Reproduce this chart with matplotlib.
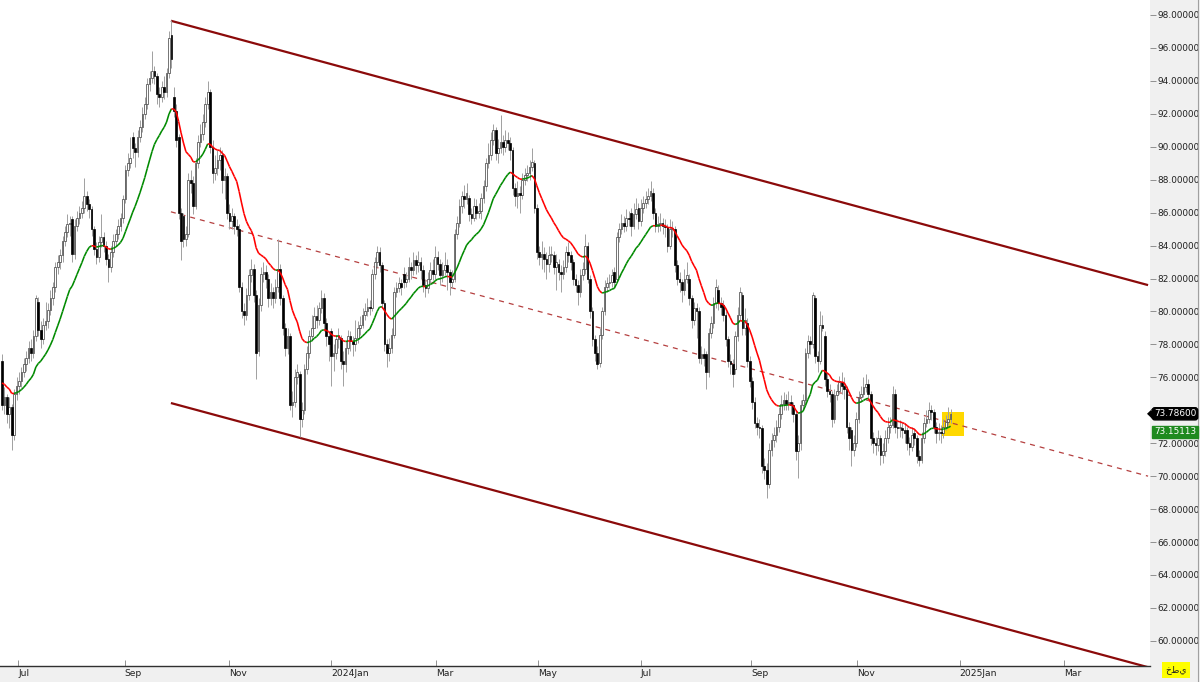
import numpy as np
import matplotlib
matplotlib.use("Agg")
import matplotlib.pyplot as plt
from matplotlib.collections import LineCollection
from matplotlib.patches import Rectangle, Polygon
import matplotlib.transforms as mtransforms

# ---------------- data ----------------
opens = [77.0,74.3,74.8,73.8,74.2,72.5,75.0,75.5,75.8,76.3,
76.8,77.2,77.8,77.5,78.5,80.6,78.9,78.3,79.2,79.4,
80.1,80.8,81.5,82.7,83.0,83.4,84.3,84.8,85.3,85.6,
83.5,85.2,85.7,86.0,86.3,87.0,86.5,86.2,85.0,83.8,
83.3,84.2,84.5,84.0,83.2,82.7,83.6,84.3,84.7,85.2,
85.7,86.8,88.6,89.0,90.6,89.9,89.7,90.6,91.2,92.0,
92.6,93.8,94.2,94.6,94.3,93.2,93.0,93.6,93.3,94.5,
96.8,93.0,92.2,90.6,86.0,85.8,84.4,84.7,88.0,87.8,
86.4,89.0,90.3,90.8,91.5,92.6,93.3,90.0,88.4,88.7,
89.2,89.5,88.0,88.2,86.0,85.5,85.8,85.2,85.0,81.5,
80.0,79.8,81.0,82.2,82.6,81.0,77.6,80.4,82.3,82.4,
82.0,80.8,81.2,80.8,81.5,82.6,80.8,79.0,77.8,78.5,
74.3,74.5,76.0,76.2,73.5,74.0,76.5,77.5,78.5,79.0,
79.7,79.5,80.2,80.8,79.3,78.5,78.8,77.3,77.5,78.3,
78.4,77.0,76.8,77.8,78.5,78.2,78.0,78.4,79.0,79.2,
79.8,80.0,80.3,80.2,82.3,83.0,83.6,82.8,80.5,78.0,
77.5,77.8,78.6,81.2,81.4,81.7,82.3,81.8,82.0,82.7,
82.5,83.1,82.8,83.0,82.5,81.6,81.4,82.0,82.5,82.3,
83.3,82.9,82.2,82.5,82.8,82.4,81.8,82.0,84.7,85.4,
86.4,87.0,86.8,86.9,85.9,85.7,86.4,86.0,86.1,86.9,
87.6,89.0,89.5,90.4,91.0,89.6,89.9,90.3,90.0,90.4,
90.2,89.8,87.5,87.0,87.2,87.1,88.0,88.3,88.4,88.8,
89.0,86.3,83.6,83.3,83.5,83.2,82.9,83.4,83.4,82.7,
82.9,82.4,82.3,82.7,83.6,83.4,83.0,82.0,81.6,81.2,
82.2,82.6,84.0,82.0,80.0,78.3,77.5,76.9,78.6,80.0,
81.5,81.7,81.8,82.4,82.0,84.5,85.0,85.4,85.2,85.7,
86.0,85.2,85.9,86.3,85.5,86.3,86.6,86.8,87.0,87.2,
86.0,85.2,85.3,85.4,85.2,85.1,84.0,85.0,85.0,82.8,
82.0,81.8,81.3,82.0,82.0,80.8,79.5,80.2,80.0,77.2,
77.4,77.4,76.3,78.7,79.3,80.5,81.3,80.5,80.4,79.8,
78.3,77.0,76.8,76.5,78.5,79.8,81.0,79.0,79.3,77.0,
75.8,74.5,73.2,73.0,72.9,70.6,70.4,69.5,71.6,72.2,
72.5,73.0,73.8,74.4,74.6,74.4,74.5,74.3,73.8,71.5,
72.0,74.3,74.6,77.5,78.2,78.0,80.8,77.3,77.0,79.2,
78.5,75.9,75.2,75.0,73.5,74.9,75.2,75.7,75.5,75.3,
73.0,72.8,71.6,72.0,73.5,74.8,75.0,75.4,75.6,75.0,
72.3,72.0,71.9,72.3,71.3,71.5,72.3,73.0,73.1,75.0,
73.0,72.9,72.9,72.8,72.8,72.0,71.8,72.6,72.3,71.2,
71.0,72.3,73.2,73.5,74.0,73.9,73.0,72.6,72.7,72.6,
73.0,73.3,73.5]

highs = [77.4,75.4,75.0,74.8,74.4,75.3,76.0,76.3,76.6,77.2,
77.6,78.2,78.3,78.9,81.0,80.9,79.4,79.6,80.6,80.5,
81.3,81.8,83.0,83.4,83.8,84.6,85.2,85.9,85.8,85.8,
85.6,86.1,86.4,86.7,88.1,87.3,86.8,86.4,85.2,84.2,
84.6,85.9,84.8,84.3,83.5,84.0,84.7,85.0,85.6,86.0,
87.1,88.9,89.6,90.6,90.9,90.2,91.0,91.6,92.4,93.0,
94.2,94.6,95.8,94.9,94.5,93.6,94.0,94.3,94.8,97.0,
97.7,93.6,92.6,90.8,86.3,86.0,85.2,88.4,88.6,88.2,
89.3,90.7,91.4,92.0,93.0,94.0,93.5,90.4,89.5,89.8,
90.0,89.8,88.7,88.4,86.5,86.3,86.0,85.6,85.3,81.8,
80.5,81.4,82.6,83.2,82.9,81.3,80.8,82.7,83.0,82.8,
82.3,81.7,81.5,82.0,84.4,82.9,81.0,79.3,79.0,78.7,
75.2,76.5,76.8,76.4,74.5,76.8,77.9,78.9,79.8,80.3,
80.4,80.6,81.3,81.1,79.6,78.8,79.0,78.0,78.6,79.0,
78.6,77.6,78.2,78.9,78.8,78.5,79.5,79.4,79.7,80.2,
80.5,80.8,80.7,82.6,83.3,84.0,83.9,83.0,80.7,78.3,
78.4,79.0,81.5,81.8,82.1,82.0,82.7,82.4,83.3,83.0,
83.6,83.4,83.7,83.3,82.8,82.0,82.4,83.0,83.2,84.0,
83.7,83.2,83.0,83.6,83.2,82.6,82.5,85.0,85.8,86.8,
87.3,87.7,87.8,87.1,86.3,86.9,86.8,86.6,87.2,88.0,
89.3,90.2,90.9,91.4,91.2,90.5,91.9,90.7,91.0,90.9,
90.6,90.0,87.8,87.9,87.6,88.4,88.7,88.9,89.2,89.9,
89.2,86.5,84.0,84.3,83.9,83.6,84.0,84.0,83.7,83.5,
83.2,82.8,83.1,84.0,84.2,83.7,83.2,82.3,81.9,82.6,
83.0,84.7,84.2,82.2,80.3,78.6,77.9,79.0,80.3,81.9,
82.1,82.3,82.6,82.7,84.8,85.4,85.9,85.8,86.2,86.1,
86.3,86.6,86.9,86.6,86.8,87.0,87.3,87.5,87.9,87.5,
86.3,85.8,86.0,85.7,85.6,85.3,85.6,85.5,85.2,83.1,
82.4,82.0,82.6,83.0,82.3,81.0,80.6,80.5,80.3,77.9,
77.8,77.6,79.0,79.7,80.9,82.0,81.6,80.9,80.7,80.0,
78.5,77.4,77.1,78.8,80.3,81.5,81.2,80.2,79.6,77.3,
76.0,74.8,73.6,73.5,73.1,71.1,70.8,72.0,72.6,73.0,
73.4,74.2,74.9,75.1,75.0,75.2,74.9,74.5,74.0,72.5,
74.6,75.0,77.8,78.6,78.5,81.2,81.0,77.6,80.0,79.8,
78.8,76.3,75.6,75.2,75.3,75.6,76.1,76.3,76.0,75.5,
73.3,73.0,72.5,73.9,75.2,75.5,76.0,76.2,75.9,75.2,
72.7,72.4,72.8,72.5,72.0,72.8,73.6,73.6,75.5,75.3,
73.5,73.4,73.3,73.2,73.0,72.4,73.0,72.9,72.5,71.6,
72.7,73.6,74.0,74.5,74.3,74.1,73.3,73.2,73.1,73.5,
73.7,74.2,74.1]

lows = [74.0,73.8,73.2,72.9,71.6,72.2,74.6,75.0,75.4,76.0,
76.4,76.9,77.0,77.2,78.2,78.5,77.8,78.0,78.9,79.0,
79.8,80.4,81.2,82.3,82.6,83.0,84.0,84.5,84.6,83.0,
83.2,84.9,85.3,85.7,86.0,86.1,85.7,84.6,83.4,82.9,
83.0,83.9,83.6,82.8,81.8,82.4,83.3,84.0,84.4,84.9,
85.4,86.6,88.2,88.7,89.3,88.8,89.4,90.3,90.9,91.7,
92.3,93.4,93.9,93.8,92.6,92.4,92.7,92.9,93.0,94.2,
94.8,91.8,90.0,85.6,83.1,83.9,84.0,84.5,87.2,85.9,
86.2,88.7,90.0,90.4,91.2,92.3,89.6,87.8,88.0,88.3,
88.6,87.2,86.8,85.6,85.0,85.0,84.7,84.6,81.2,79.6,
79.2,79.5,80.7,81.8,80.6,75.9,77.3,80.0,81.8,81.4,
80.3,80.4,80.2,80.5,81.2,80.4,78.6,77.3,77.4,74.0,
73.6,74.2,75.6,72.4,73.0,73.8,76.2,77.2,78.2,79.2,
79.0,79.2,79.9,78.8,77.9,77.0,75.5,76.4,77.1,77.8,
76.5,75.5,76.3,77.4,77.6,77.3,77.6,78.1,78.6,79.0,
79.5,79.7,79.8,80.0,82.0,82.7,82.4,80.2,77.6,76.6,
77.0,77.5,78.4,80.9,81.2,81.0,81.4,81.5,81.8,82.0,
82.2,82.3,82.4,82.0,81.2,80.9,81.1,81.7,81.9,82.0,
82.5,81.6,81.8,82.2,81.3,81.0,81.4,81.8,84.4,85.1,
86.0,86.3,86.5,85.5,85.3,85.5,85.6,85.7,85.6,86.6,
87.3,88.7,89.2,90.1,89.2,89.0,89.6,89.5,89.7,89.8,
89.2,87.1,86.4,86.3,86.0,86.8,87.7,87.9,88.0,88.5,
86.0,83.2,82.8,82.6,82.4,82.0,82.4,83.0,82.3,81.3,
81.9,81.2,82.0,82.4,83.0,82.5,81.6,81.2,80.4,80.9,
81.9,82.3,81.7,79.6,77.9,77.0,76.5,76.6,78.3,79.8,
81.2,81.4,81.5,81.4,81.8,84.2,84.7,84.8,84.9,85.2,
84.6,85.0,85.6,85.0,85.2,86.0,86.3,86.5,86.7,85.6,
84.8,84.8,84.9,84.7,84.5,83.6,83.8,84.5,82.4,81.6,
81.2,80.6,81.0,81.7,80.4,79.0,79.2,78.4,76.9,76.8,
76.7,75.3,76.0,78.4,79.0,80.2,80.1,79.8,79.4,77.9,
76.6,76.2,75.4,76.2,78.2,79.5,78.6,78.6,76.6,75.4,
74.1,72.9,72.5,72.3,70.2,69.8,68.7,69.3,71.2,71.8,
72.1,72.7,73.5,74.0,74.0,74.0,73.8,73.3,71.0,69.9,
71.6,74.0,74.4,77.2,77.4,77.8,76.9,76.3,76.8,78.8,
75.5,74.8,74.5,73.0,73.2,74.6,75.0,75.0,74.7,72.6,
71.6,70.6,71.2,71.8,73.2,74.5,74.8,75.1,74.6,71.9,
71.4,71.3,71.5,70.7,70.8,71.2,72.0,72.6,72.9,72.6,
72.3,72.4,72.3,72.0,71.6,71.3,71.5,71.9,70.8,70.6,
70.8,72.0,73.0,73.2,73.4,72.6,72.0,72.2,72.0,72.3,
72.8,73.1,73.2]

closes = [74.3,74.8,73.8,74.2,72.5,75.0,75.5,75.8,76.3,76.8,
77.2,77.8,77.5,78.5,80.8,78.9,78.3,79.2,79.4,80.1,
80.8,81.5,82.7,83.0,83.4,84.3,84.8,85.3,85.4,83.5,
85.2,85.7,86.0,86.3,87.0,86.5,86.2,85.0,83.8,83.3,
84.2,84.5,84.0,83.2,82.7,83.6,84.3,84.7,85.2,85.7,
86.8,88.6,89.0,89.3,89.9,89.7,90.6,91.2,92.0,92.6,
93.8,94.2,94.6,94.3,93.2,93.0,93.6,93.3,94.5,96.6,
95.3,92.2,90.4,86.0,84.3,84.4,84.7,88.0,87.8,86.4,
89.0,90.3,90.8,91.5,92.6,93.3,90.0,88.4,88.7,89.2,
89.5,88.0,88.2,86.0,85.5,85.8,85.2,85.0,81.5,80.0,
79.8,81.0,82.2,82.6,81.0,77.5,80.4,82.3,82.4,82.0,
80.8,81.2,80.8,81.5,82.6,80.8,79.0,77.8,78.5,74.3,
74.5,76.0,76.3,73.5,74.0,76.5,77.5,78.5,79.0,79.7,
79.5,80.2,80.8,79.3,78.5,78.0,77.3,77.5,78.3,78.6,
77.0,76.8,77.8,78.5,78.2,78.0,78.4,79.0,79.2,79.8,
80.0,80.3,80.2,82.3,83.0,83.6,82.8,80.5,78.0,77.5,
77.8,78.6,81.2,81.4,81.7,81.5,81.8,82.0,82.7,82.5,
83.1,82.8,83.0,82.5,81.6,81.4,82.0,82.5,82.3,83.3,
82.9,82.2,82.5,82.8,82.4,81.8,82.0,84.7,85.4,86.4,
87.0,86.8,87.2,85.9,85.7,86.4,86.0,86.1,86.9,87.6,
89.0,89.5,90.4,91.0,89.6,89.9,90.3,90.0,90.4,90.2,
89.8,87.5,87.0,87.2,87.1,88.0,88.3,88.4,88.8,89.1,
86.3,83.6,83.3,83.5,83.2,82.9,83.4,83.5,82.7,83.0,
82.4,82.3,82.7,83.6,83.4,83.0,82.0,81.6,81.2,82.2,
82.6,84.0,82.0,80.0,78.3,77.5,76.8,78.6,80.0,81.5,
81.7,81.8,82.2,81.8,84.5,85.0,85.4,85.2,85.7,85.6,
85.2,85.9,86.2,85.5,86.3,86.6,86.8,87.0,87.3,86.0,
85.2,85.3,85.4,85.2,85.1,84.0,85.0,85.0,82.8,82.0,
81.8,81.3,82.0,82.2,80.8,79.5,80.2,80.0,77.2,77.4,
77.2,76.3,78.7,79.3,80.5,81.5,80.5,80.3,79.8,78.3,
77.0,76.8,76.2,78.5,79.8,81.2,79.0,79.5,77.0,75.8,
74.5,73.2,73.0,72.9,70.6,70.4,69.5,71.6,72.2,72.5,
73.0,73.8,74.4,74.6,74.4,74.5,74.3,73.8,71.5,72.0,
74.3,74.6,77.5,78.2,78.0,81.0,77.3,77.0,79.2,79.0,
75.9,75.2,75.0,73.5,74.9,75.2,75.7,75.5,75.3,73.0,
72.3,71.6,72.0,73.5,74.8,75.0,75.4,75.6,75.0,72.3,
72.0,71.9,72.3,71.3,71.5,72.3,73.0,73.1,75.0,73.0,
72.9,72.9,72.8,72.6,72.0,71.8,72.5,72.3,71.2,71.0,
72.3,73.2,73.5,74.0,73.9,73.0,72.6,72.7,72.6,73.0,
73.3,73.5,73.786]

month_labels = ["Jul", "Sep", "Nov", "2024Jan", "Mar", "May",
                "Jul", "Sep", "Nov", "2025Jan", "Mar"]
month_pos = [6.8, 50.7, 94.0, 136.0, 179.3, 221.4, 264.0, 309.5, 353.5, 395.7, 438.9]

price_ticks = list(range(60, 99, 2))
hidden_tick = 74   # its label sits behind the current-price marker in the reference

# channel (start / end index, prices) for upper / middle / lower
chan_x = [69.8, 473.6]
chan_upper = [97.65, 81.60]
chan_mid = [86.05, 70.00]
chan_lower = [74.44, 58.40]

last_price_label = 73.78600
ma_label = 73.15113
ma_span = 20
ma_seed = 75.8   # moving-average level read at the left edge

# ---------------- figure ----------------
W, H = 1200, 682
fig = plt.figure(figsize=(W / 100, H / 100), dpi=100)
fig.patch.set_facecolor("#f0f0f0")
ax_bottom_px = 666
ax = fig.add_axes([0, (H - ax_bottom_px) / H, 1150 / W, ax_bottom_px / H])
ax.set_facecolor("white")

n = len(closes)
idx = np.arange(n)
o = np.array(opens); h = np.array(highs); l = np.array(lows); c = np.array(closes)

xmin, xmax = -0.83, 474.4
ymax = 98 + 15 / 16.47
ymin = 98 - (ax_bottom_px - 15) / 16.47
ax.set_xlim(xmin, xmax)
ax.set_ylim(ymin, ymax)

# highlight box at the end
ax.add_patch(Rectangle((388.4, 72.45), 9.1, 1.45, facecolor="#ffd800",
                       edgecolor="none", zorder=1))

# channel lines
ax.plot(chan_x, chan_upper, color="#8b0a0a", lw=1.6, zorder=2, solid_capstyle="butt")
ax.plot(chan_x, chan_lower, color="#8b0a0a", lw=1.6, zorder=2, solid_capstyle="butt")
ax.plot(chan_x, chan_mid, color="#b54040", lw=0.9, ls=(0, (4, 4)), zorder=2)

# candles
up = c >= o
ax.vlines(idx, l, h, color="#a0a0a0", lw=0.7, zorder=3)
bw = 0.7
body_lo = np.minimum(o, c)
body_h = np.maximum(np.abs(c - o), 0.08)
ax.bar(idx[up], body_h[up], bottom=body_lo[up], width=bw, color="white",
       edgecolor="#3c3c3c", linewidth=0.5, zorder=4)
ax.bar(idx[~up], body_h[~up], bottom=body_lo[~up], width=bw, color="black",
       edgecolor="black", linewidth=0.5, zorder=4)

# exponential moving average, coloured by slope
ma = np.empty(n)
alpha = 2.0 / (ma_span + 1)
prev = ma_seed
for i in range(n):
    prev = alpha * c[i] + (1 - alpha) * prev
    ma[i] = prev
pts = np.column_stack([idx, ma])
segs = np.stack([pts[:-1], pts[1:]], axis=1)
cols = ["#008a00" if ma[i + 1] >= ma[i] else "#ff0000" for i in range(n - 1)]
ax.add_collection(LineCollection(segs, colors=cols, linewidths=1.15, zorder=5))

# axes styling
for s in ["top", "left", "right"]:
    ax.spines[s].set_visible(False)
ax.spines["bottom"].set_color("#303030")
ax.spines["bottom"].set_linewidth(1.0)

ax.yaxis.tick_right()
ax.set_yticks(price_ticks)
ax.set_yticklabels(["" if v == hidden_tick else f"{v:.5f}" for v in price_ticks])
ax.tick_params(axis="y", direction="out", length=4, width=0.6, color="#808080",
               pad=1.5, labelsize=6.4, labelcolor="#202020")

ax.set_xticks(month_pos)
ax.set_xticklabels(month_labels)
ax.tick_params(axis="x", direction="in", length=4, width=0.6, color="#808080",
               pad=2, labelsize=6.6, labelcolor="#202020")
for lab in ax.get_xticklabels():
    lab.set_horizontalalignment("left")

# right-side labels
trans = mtransforms.blended_transform_factory(fig.transFigure, ax.transData)
fig.text(1175 / W, last_price_label, f"{last_price_label:.5f}", transform=trans,
         color="white", fontsize=6.4, ha="center", va="center",
         bbox=dict(boxstyle="round,pad=0.18,rounding_size=0.3", fc="black", ec="black"))
ax.add_patch(Polygon([[1147 / W, last_price_label], [1153 / W, last_price_label + 0.35],
                      [1153 / W, last_price_label - 0.35]], closed=True,
                     transform=trans, fc="black", ec="none", clip_on=False))
fig.text(1175 / W, last_price_label - 1.10, f"{ma_label:.5f}", transform=trans,
         color="white", fontsize=6.4, ha="center", va="center",
         bbox=dict(boxstyle="square,pad=0.18", fc="#1f8a1f", ec="#1f8a1f"))

fig.text(1176 / W, (H - 670) / H, "خطي", color="#202020", fontsize=6.6,
         family=["DejaVu Sans"], ha="center", va="center",
         bbox=dict(boxstyle="square,pad=0.35", fc="#ffff00", ec="none"))

# right border line
fig.add_artist(plt.Line2D([1197.5 / W, 1197.5 / W], [0, 1], color="#a0a0a0", lw=0.8))

fig.savefig("out.png", dpi=100, facecolor=fig.get_facecolor())
